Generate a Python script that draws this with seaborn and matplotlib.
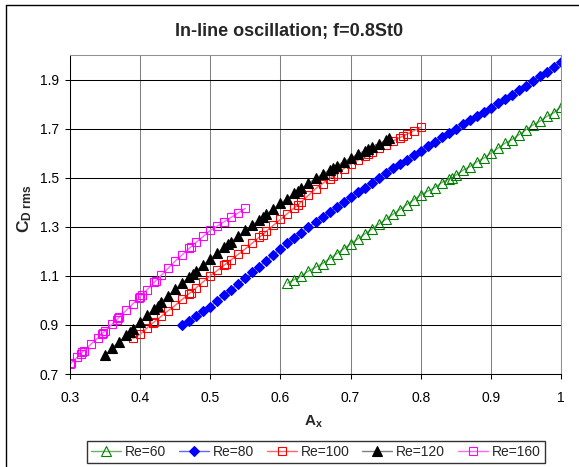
import matplotlib
matplotlib.use("Agg")
import matplotlib.pyplot as plt
from matplotlib.lines import Line2D
import seaborn as sns

# Drag coefficient (rms) versus in-line oscillation amplitude, f = 0.8 St0
re60_x = [0.61, 0.62, 0.63, 0.64, 0.65, 0.66, 0.67, 0.68, 0.69, 0.70,
          0.71, 0.72, 0.73, 0.74, 0.75, 0.76, 0.77, 0.78, 0.79, 0.80,
          0.81, 0.82, 0.83, 0.84, 0.845, 0.85, 0.86, 0.87, 0.88, 0.89,
          0.90, 0.91, 0.92, 0.93, 0.94, 0.95, 0.96, 0.97, 0.98, 0.99, 1.00]
re60_y = [1.070, 1.085, 1.100, 1.120, 1.135, 1.150, 1.170, 1.190, 1.210, 1.230,
          1.250, 1.270, 1.290, 1.310, 1.330, 1.350, 1.370, 1.390, 1.410, 1.430,
          1.445, 1.460, 1.480, 1.495, 1.500, 1.510, 1.530, 1.545, 1.565, 1.580,
          1.600, 1.620, 1.640, 1.655, 1.675, 1.695, 1.715, 1.730, 1.750, 1.765, 1.790]

re80_x = [0.46, 0.47, 0.48, 0.49, 0.50, 0.51, 0.52, 0.53, 0.54, 0.55,
          0.56, 0.57, 0.58, 0.59, 0.60, 0.61, 0.62, 0.63, 0.64, 0.65,
          0.66, 0.67, 0.68, 0.69, 0.70, 0.71, 0.72, 0.73, 0.74, 0.75,
          0.76, 0.77, 0.78, 0.79, 0.80, 0.81, 0.82, 0.83, 0.84, 0.85,
          0.86, 0.87, 0.88, 0.89, 0.90, 0.91, 0.92, 0.93, 0.94, 0.95,
          0.96, 0.97, 0.98, 0.99, 1.00]
re80_y = [0.900, 0.918, 0.936, 0.955, 0.975, 0.998, 1.021, 1.044, 1.067, 1.090,
          1.114, 1.138, 1.162, 1.186, 1.210, 1.232, 1.254, 1.276, 1.298, 1.320,
          1.340, 1.360, 1.380, 1.400, 1.420, 1.440, 1.460, 1.480, 1.500, 1.520,
          1.538, 1.556, 1.574, 1.592, 1.610, 1.628, 1.646, 1.664, 1.682, 1.700,
          1.717, 1.734, 1.751, 1.768, 1.785, 1.803, 1.821, 1.839, 1.857, 1.875,
          1.894, 1.913, 1.932, 1.951, 1.970]

re100_x = [0.390, 0.400, 0.410, 0.418, 0.420, 0.430, 0.440, 0.450, 0.460, 0.470,
           0.472, 0.480, 0.490, 0.500, 0.510, 0.520, 0.522, 0.530, 0.540, 0.550,
           0.560, 0.570, 0.575, 0.580, 0.590, 0.600, 0.610, 0.620, 0.625, 0.630,
           0.640, 0.650, 0.660, 0.670, 0.675, 0.680, 0.690, 0.700, 0.710, 0.720,
           0.725, 0.730, 0.740, 0.750, 0.760, 0.770, 0.775, 0.780, 0.790, 0.800]
re100_y = [0.845, 0.862, 0.888, 0.908, 0.912, 0.935, 0.958, 0.980, 1.004, 1.028,
           1.032, 1.052, 1.076, 1.100, 1.122, 1.144, 1.148, 1.166, 1.188, 1.210,
           1.234, 1.258, 1.268, 1.282, 1.306, 1.330, 1.354, 1.378, 1.390, 1.402,
           1.428, 1.455, 1.476, 1.496, 1.506, 1.516, 1.536, 1.555, 1.571, 1.587,
           1.595, 1.603, 1.619, 1.635, 1.649, 1.663, 1.670, 1.677, 1.691, 1.705]

re120_x = [0.350, 0.360, 0.370, 0.380, 0.385, 0.390, 0.400, 0.410, 0.420, 0.425,
           0.430, 0.440, 0.450, 0.460, 0.470, 0.475, 0.480, 0.490, 0.500, 0.510,
           0.520, 0.525, 0.530, 0.540, 0.550, 0.560, 0.570, 0.575, 0.580, 0.590,
           0.600, 0.610, 0.620, 0.625, 0.630, 0.640, 0.650, 0.660, 0.670, 0.675,
           0.680, 0.690, 0.700, 0.710, 0.720, 0.725, 0.730, 0.740, 0.750, 0.755]
re120_y = [0.777, 0.805, 0.832, 0.858, 0.872, 0.885, 0.912, 0.939, 0.966, 0.979,
           0.992, 1.019, 1.045, 1.070, 1.095, 1.108, 1.120, 1.145, 1.170, 1.193,
           1.216, 1.228, 1.239, 1.262, 1.285, 1.307, 1.329, 1.340, 1.351, 1.373,
           1.395, 1.415, 1.436, 1.446, 1.456, 1.477, 1.497, 1.514, 1.531, 1.540,
           1.548, 1.564, 1.580, 1.595, 1.610, 1.617, 1.624, 1.638, 1.652, 1.660]

re160_x = [0.300, 0.302, 0.310, 0.315, 0.317, 0.320, 0.330, 0.340, 0.345, 0.347,
           0.350, 0.360, 0.367, 0.369, 0.370, 0.380, 0.390, 0.398, 0.400, 0.402,
           0.410, 0.420, 0.422, 0.430, 0.440, 0.450, 0.460, 0.470, 0.472, 0.480,
           0.490, 0.500, 0.510, 0.520, 0.530, 0.540, 0.550]
re160_y = [0.740, 0.746, 0.768, 0.782, 0.788, 0.795, 0.822, 0.848, 0.862, 0.868,
           0.875, 0.903, 0.922, 0.928, 0.931, 0.959, 0.987, 1.009, 1.015, 1.021,
           1.044, 1.073, 1.079, 1.102, 1.131, 1.160, 1.186, 1.212, 1.217, 1.237,
           1.261, 1.285, 1.303, 1.321, 1.339, 1.357, 1.375]

x_ticks = [0.3, 0.4, 0.5, 0.6, 0.7, 0.8, 0.9, 1.0]
x_tick_labels = ["0.3", "0.4", "0.5", "0.6", "0.7", "0.8", "0.9", "1"]
y_ticks = [0.7, 0.9, 1.1, 1.3, 1.5, 1.7, 1.9]
y_tick_labels = ["0.7", "0.9", "1.1", "1.3", "1.5", "1.7", "1.9"]

sns.set_style("white")
plt.rcParams["font.family"] = ["Liberation Sans", "DejaVu Sans"]
plt.rcParams["mathtext.fontset"] = "custom"
plt.rcParams["mathtext.rm"] = "Liberation Sans"
plt.rcParams["mathtext.it"] = "Liberation Sans:italic"
plt.rcParams["mathtext.bf"] = "Liberation Sans:bold"

W, H = 579, 467
fig = plt.figure(figsize=(W / 100, H / 100), dpi=100)
ax = fig.add_axes([70 / W, 93 / H, 491 / W, 319 / H])

series = [
    ("Re=60", re60_x, re60_y,
     dict(color="#66b366", marker="^", ms=6.5, mfc="none", mec="#008000")),
    ("Re=80", re80_x, re80_y,
     dict(color="#6666ff", marker="D", ms=4.8, mfc="#0000ff", mec="#0000ff")),
    ("Re=100", re100_x, re100_y,
     dict(color="#ff6666", marker="s", ms=6.2, mfc="none", mec="#ff0000")),
    ("Re=120", re120_x, re120_y,
     dict(color="#808080", marker="^", ms=6.5, mfc="#000000", mec="#000000")),
    ("Re=160", re160_x, re160_y,
     dict(color="#ff66ff", marker="s", ms=5.6, mfc="none", mec="#ff00ff")),
]
for label, xs, ys, style in series:
    sns.lineplot(x=xs, y=ys, ax=ax, sort=False, estimator=None, label=label,
                 lw=1.0, mew=0.8, **style)

ax.set_xlim(0.3, 1.0)
ax.set_ylim(0.7, 2.0)
ax.set_xticks(x_ticks)
ax.set_xticklabels(x_tick_labels)
ax.set_yticks(y_ticks)
ax.set_yticklabels(y_tick_labels)

ax.set_axisbelow(True)
ax.yaxis.grid(True, color="black", lw=0.75)
ax.xaxis.grid(True, color="#808080", lw=0.75)
for side in ("left", "bottom"):
    ax.spines[side].set_color("black")
    ax.spines[side].set_linewidth(0.75)
for side in ("top", "right"):
    ax.spines[side].set_color("#909090")
    ax.spines[side].set_linewidth(0.75)

ax.tick_params(axis="both", which="major", bottom=True, left=True,
               direction="out", length=3.6, width=0.75, color="black",
               labelsize=10, labelcolor="black")
ax.tick_params(axis="x", pad=9)
ax.tick_params(axis="y", pad=4.3)

fig.text(289 / W, 1 - 36 / H, "In-line oscillation; f=0.8St0", fontsize=13,
         fontweight="bold", ha="center", va="baseline")
ax.set_xlabel(r"$\mathbf{A_x}$", fontsize=11)
ax.xaxis.set_label_coords(0.495, -0.123)
fig.text(25 / W, 1 - 209 / H, r"$\mathbf{C}_{\mathbf{D\ rms}}$", fontsize=12.5,
         rotation=90, ha="center", va="center")

handles, labels = ax.get_legend_handles_labels()
if ax.get_legend() is not None:
    ax.get_legend().remove()
leg = fig.legend(handles, labels, loc="center",
                 bbox_to_anchor=(316 / W, 1 - 452 / H), ncol=5,
                 frameon=True, fancybox=False, edgecolor="black",
                 fontsize=10, handlelength=2.15, handletextpad=0.3,
                 columnspacing=0.9, borderpad=0.3)
leg.get_frame().set_linewidth(1.0)

# outer chart border (left and top edges)
fig.add_artist(Line2D([5.5 / W, 5.5 / W], [0, 1 - 5 / H], color="black",
                      lw=1.0, transform=fig.transFigure))
fig.add_artist(Line2D([5.5 / W, 1], [1 - 5 / H, 1 - 5 / H], color="black",
                      lw=1.0, transform=fig.transFigure))

fig.savefig("out.png", dpi=100)
